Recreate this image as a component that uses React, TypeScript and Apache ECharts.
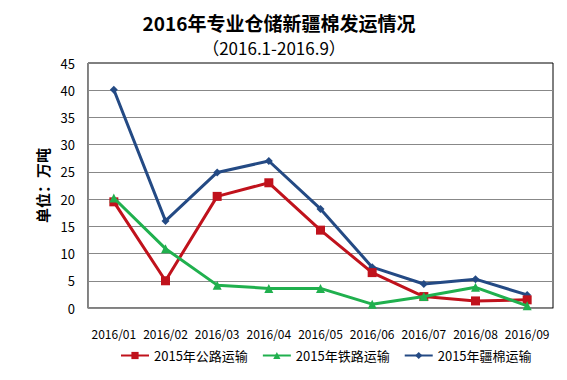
import React, { useEffect, useRef } from "react";
import * as echarts from "echarts";

const categories = ["2016/01", "2016/02", "2016/03", "2016/04", "2016/05", "2016/06", "2016/07", "2016/08", "2016/09"];
const roadValues = [19.5, 5.0, 20.5, 23.0, 14.3, 6.5, 2.1, 1.3, 1.5];
const railValues = [20.2, 10.9, 4.2, 3.6, 3.6, 0.7, 2.1, 3.8, 0.4];
const cottonValues = [40.1, 16.0, 24.9, 27.0, 18.2, 7.5, 4.4, 5.3, 2.4];
const seriesNames = ["2015年公路运输", "2015年铁路运输", "2015年疆棉运输"];

const FONT = "'Noto Sans CJK SC', sans-serif";

export default function App() {
  const ref = useRef<HTMLDivElement>(null);
  useEffect(() => {
    document.body.style.margin = "0";
    const chart = echarts.init(ref.current!, null, { renderer: "svg" });
    chart.setOption({
      animation: false,
      backgroundColor: "#fff",
      textStyle: { fontFamily: FONT },
      graphic: [
        {
          type: "text",
          x: 279,
          y: 22,
          style: {
            text: "2016年专业仓储新疆棉发运情况",
            font: `bold 19px ${FONT}`,
            fill: "#000",
            align: "center",
            verticalAlign: "middle",
          },
        },
        {
          type: "text",
          x: 274,
          y: 47,
          style: {
            text: "（2016.1-2016.9）",
            font: `17px ${FONT}`,
            fill: "#000",
            align: "center",
            verticalAlign: "middle",
          },
        },
      ],
      grid: {
        left: 88,
        right: 14,
        top: 63,
        bottom: 72,
        show: true,
        borderColor: "#000",
        borderWidth: 1,
      },
      legend: {
        top: 344,
        left: 115,
        itemWidth: 28,
        itemHeight: 9,
        itemGap: 14,
        textStyle: { fontSize: 13, color: "#000", fontFamily: FONT },
        data: seriesNames,
      },
      xAxis: {
        type: "category",
        data: categories,
        boundaryGap: true,
        axisLine: { lineStyle: { color: "#888" } },
        axisTick: { show: false },
        axisLabel: { color: "#000", fontSize: 12, margin: 19, interval: 0, fontFamily: FONT },
      },
      yAxis: {
        type: "value",
        min: 0,
        max: 45,
        interval: 5,
        name: "单位：万吨",
        nameLocation: "middle",
        nameRotate: 90,
        nameGap: 36,
        nameTextStyle: { fontSize: 15, fontWeight: "bold", color: "#000", fontFamily: FONT },
        axisLine: { show: true, lineStyle: { color: "#888" } },
        axisTick: { show: false },
        axisLabel: { color: "#000", fontSize: 13, margin: 13, fontFamily: FONT },
        splitLine: { show: true, showMaxLine: false, showMinLine: false, lineStyle: { color: "#888", width: 1 } },
      },
      series: [
        {
          name: seriesNames[0],
          type: "line",
          data: roadValues,
          symbol: "rect",
          symbolSize: 9,
          lineStyle: { color: "#C0121C", width: 3 },
          itemStyle: { color: "#C0121C" },
          z: 3,
        },
        {
          name: seriesNames[1],
          type: "line",
          data: railValues,
          symbol: "triangle",
          symbolSize: 9,
          lineStyle: { color: "#20B04E", width: 3 },
          itemStyle: { color: "#20B04E" },
          z: 4,
        },
        {
          name: seriesNames[2],
          type: "line",
          data: cottonValues,
          symbol: "diamond",
          symbolSize: 8,
          lineStyle: { color: "#244A84", width: 3 },
          itemStyle: { color: "#244A84" },
          z: 2,
        },
      ],
    });
    return () => chart.dispose();
  }, []);
  return <div ref={ref} style={{ position: "absolute", left: 0, top: 0, width: 567, height: 380 }} />;
}
